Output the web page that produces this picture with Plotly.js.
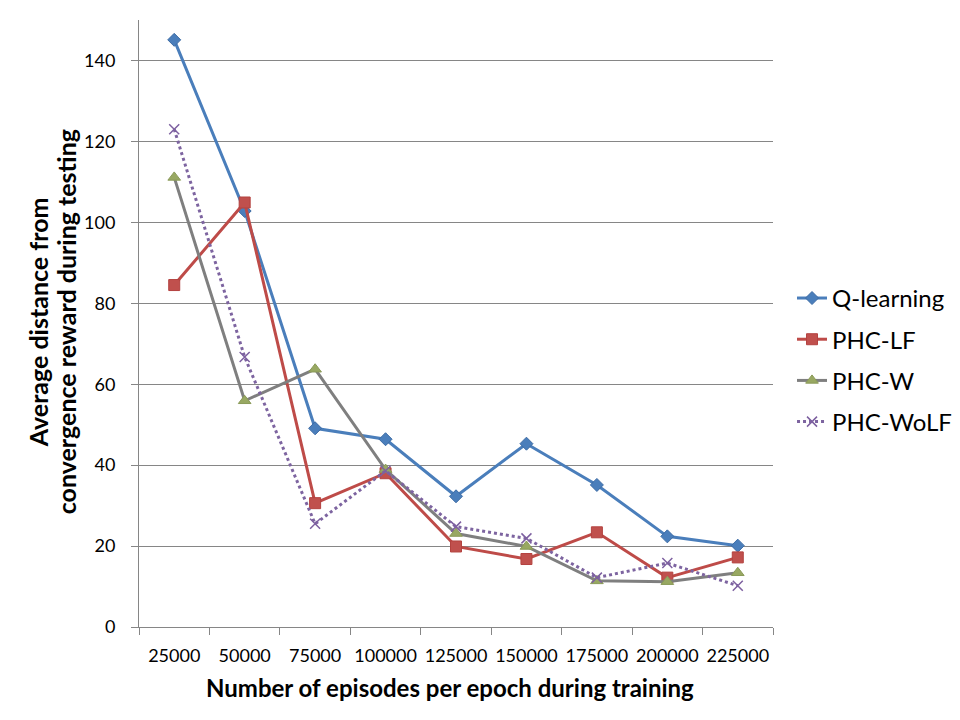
<!DOCTYPE html>
<html>
<head>
<meta charset="utf-8">
<script src="https://cdn.plot.ly/plotly-3.0.1.min.js"></script>
<style>
  html, body { margin: 0; padding: 0; background: #fff; }
  #chart { width: 960px; height: 720px; }
</style>
</head>
<body>
<div id="chart"></div>
<script>
// episodes per epoch (category axis)
const episodes = ['25000', '50000', '75000', '100000', '125000', '150000', '175000', '200000', '225000'];

// average distance from convergence reward
const qLearning = [145.1, 102.8, 49.1, 46.4, 32.3, 45.3, 35.1, 22.4, 20.1];
const phcLF     = [84.5, 104.9, 30.6, 38.0, 19.9, 16.8, 23.4, 12.2, 17.2];
const phcW      = [111.1, 55.9, 63.7, 38.9, 23.1, 19.9, 11.4, 11.2, 13.4];
const phcWoLF   = [123.0, 66.7, 25.5, 38.6, 24.8, 21.9, 12.2, 15.8, 10.2];

const yTitleLines = ['Average distance from', 'convergence reward during testing'];
const xTitle = 'Number of episodes per epoch during training';

const FONT = 'Lato, "Open Sans", sans-serif';

function series(name, y, lineColor, dash, symbol, size, markerColor, markerLine) {
    return {
        type: 'scatter',
        mode: 'lines+markers',
        name: name,
        legendgroup: name,
        x: episodes,
        y: y,
        line: { color: lineColor, width: 3, dash: dash },
        marker: {
            symbol: symbol,
            size: size,
            color: markerColor,
            line: { color: markerLine, width: symbol === 'x-thin' ? 1.5 : 1 }
        }
    };
}

const traces = [
    series('Q-learning', qLearning, '#4a7ebb', 'solid', 'diamond', 10, '#4a7ebb', '#3d6ca5'),
    series('PHC-LF', phcLF, '#be4b48', 'solid', 'square', 11, '#c0504d', '#b3423f'),
    series('PHC-W', phcW, '#7f7f7f', 'solid', 'triangle-up', 11, '#98a862', '#8a9a58'),
    series('PHC-WoLF', phcWoLF, '#7d64a0', 'dot', 'x-thin', 10, '#7d60a0', '#7d60a0')
];

// y title: one annotation per line so the line spacing can follow the reference
const yTitleAnnotations = yTitleLines.map((line, i) => ({
    xref: 'paper', yref: 'paper',
    x: 0, xshift: -101 + i * 28, y: 0.502, xanchor: 'center', yanchor: 'middle',
    text: '<b>' + line + '</b>',
    textangle: -90,
    showarrow: false,
    font: { family: FONT, size: 25, color: '#000000' }
}));

const layout = {
    width: 960,
    height: 720,
    margin: { l: 139, r: 187, t: 20, b: 93, autoexpand: false },
    paper_bgcolor: '#ffffff',
    plot_bgcolor: '#ffffff',
    font: { family: FONT, size: 18, color: '#000000' },
    showlegend: true,
    legend: {
        x: 1.03, xanchor: 'left',
        y: 0.44, yanchor: 'middle',
        font: { family: FONT, size: 24, color: '#000000' },
        traceorder: 'grouped',
        tracegroupgap: 7,
        itemwidth: 30
    },
    xaxis: {
        type: 'category',
        range: [-0.5, 8.5],
        automargin: false,
        showline: true,
        linecolor: '#868686',
        linewidth: 1,
        showgrid: false,
        zeroline: false,
        ticks: 'outside',
        tickson: 'boundaries',
        ticklen: 7,
        tickcolor: '#868686',
        tickangle: 0,
        tickfont: { family: FONT, size: 18, color: '#000000' },
        ticklabelstandoff: 12
    },
    yaxis: {
        range: [0, 150],
        automargin: false,
        tickvals: [0, 20, 40, 60, 80, 100, 120, 140],
        showline: true,
        linecolor: '#868686',
        linewidth: 1,
        showgrid: true,
        gridcolor: '#868686',
        gridwidth: 1,
        zeroline: false,
        ticks: 'outside',
        ticklen: 7,
        tickcolor: '#868686',
        tickfont: { family: FONT, size: 18, color: '#000000' },
        ticklabelstandoff: 12
    },
    annotations: [
        {
            xref: 'paper', yref: 'paper',
            x: 0.5, y: -0.1, xanchor: 'center', yanchor: 'middle',
            xshift: -6,
            text: '<b>' + xTitle + '</b>',
            showarrow: false,
            font: { family: FONT, size: 24, color: '#000000' }
        }
    ].concat(yTitleAnnotations)
};

Plotly.newPlot('chart', traces, layout, { displayModeBar: false, staticPlot: true });
</script>
</body>
</html>
